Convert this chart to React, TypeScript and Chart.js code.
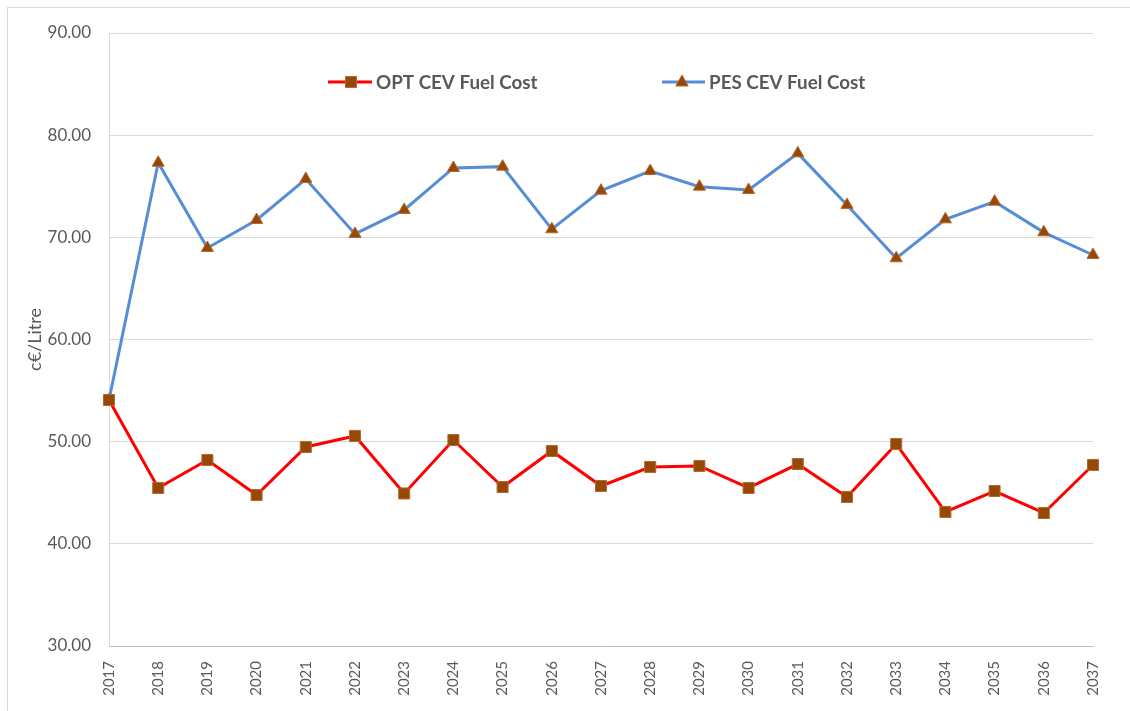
import React, { useEffect, useRef } from "react";
import { Chart, registerables } from "chart.js";

Chart.register(...registerables);

const years = [
  "2017", "2018", "2019", "2020", "2021", "2022", "2023", "2024", "2025", "2026", "2027",
  "2028", "2029", "2030", "2031", "2032", "2033", "2034", "2035", "2036", "2037",
];

const optFuelCost = [
  54.08, 45.47, 48.2, 44.78, 49.48, 50.56, 44.93, 50.16, 45.56, 49.09, 45.66,
  47.52, 47.62, 45.47, 47.81, 44.59, 49.77, 43.12, 45.17, 43.02, 47.72,
];

const pesFuelCost = [
  54.08, 77.3, 68.96, 71.7, 75.71, 70.33, 72.68, 76.79, 76.92, 70.79, 74.57,
  76.49, 74.96, 74.63, 78.22, 73.17, 67.95, 71.76, 73.49, 70.49, 68.27,
];

const seriesNames = ["OPT CEV Fuel Cost", "PES CEV Fuel Cost"];
const yTicks = [30, 40, 50, 60, 70, 80, 90];
const yTitle = "c€/Litre";

const RED = "#ff0000";
const BLUE = "#558ed5";
const MARKER = "#974706";
const MARKER_BORDER = "#b36a30";
const TEXT = "#595959";
const FONT = "Lato, 'Open Sans', sans-serif";

const legendPlugin = {
  id: "insideLegend",
  afterDraw(chart: any) {
    const ctx = chart.ctx;
    const y = 74;
    const items = [
      { x0: 320, x1: 364, mx: 343, tx: 368, ds: 0 },
      { x0: 654, x1: 697, mx: 674, tx: 701, ds: 1 },
    ];
    ctx.save();
    for (const it of items) {
      const ds = chart.data.datasets[it.ds];
      ctx.strokeStyle = ds.borderColor;
      ctx.lineWidth = 3;
      ctx.beginPath();
      ctx.moveTo(it.x0, y);
      ctx.lineTo(it.x1, y);
      ctx.stroke();
      ctx.fillStyle = MARKER;
      ctx.strokeStyle = MARKER_BORDER;
      ctx.lineWidth = 1;
      ctx.beginPath();
      if (ds.pointStyle === "rect") {
        ctx.rect(it.mx - 5.5, y - 5.5, 11, 11);
      } else {
        ctx.moveTo(it.mx, y - 7);
        ctx.lineTo(it.mx + 6.2, y + 4);
        ctx.lineTo(it.mx - 6.2, y + 4);
        ctx.closePath();
      }
      ctx.fill();
      ctx.stroke();
      ctx.fillStyle = TEXT;
      ctx.font = `bold 18.8px ${FONT}`;
      ctx.textBaseline = "middle";
      ctx.textAlign = "left";
      ctx.fillText(ds.label, it.tx, y + 1);
    }
    ctx.restore();
  },
};

export default function App() {
  const ref = useRef<HTMLCanvasElement | null>(null);

  useEffect(() => {
    if (!ref.current) return;
    const chart = new Chart(ref.current, {
      type: "line",
      data: {
        labels: years,
        datasets: [
          {
            label: seriesNames[0],
            data: optFuelCost,
            borderColor: RED,
            backgroundColor: MARKER,
            borderWidth: 3,
            pointStyle: "rect",
            pointRadius: 7.8,
            pointBackgroundColor: MARKER,
            pointBorderColor: MARKER_BORDER,
            pointBorderWidth: 1,
            tension: 0,
            clip: false as any,
          },
          {
            label: seriesNames[1],
            data: pesFuelCost,
            borderColor: BLUE,
            backgroundColor: MARKER,
            borderWidth: 3,
            pointStyle: "triangle",
            pointRadius: 7,
            pointBackgroundColor: MARKER,
            pointBorderColor: MARKER_BORDER,
            pointBorderWidth: 1,
            tension: 0,
            clip: false as any,
          },
        ],
      },
      options: {
        animation: false,
        responsive: false,
        maintainAspectRatio: false,
        layout: { padding: { top: 25, right: 37, left: 0, bottom: 0 } },
        plugins: {
          legend: { display: false },
          tooltip: { enabled: false },
        },
        scales: {
          x: {
            type: "category",
            offset: false,
            grid: { display: false, drawTicks: false },
            border: { display: true, color: "#bfbfbf", width: 1 },
            ticks: {
              color: TEXT,
              font: { family: FONT, size: 15 },
              minRotation: 90,
              maxRotation: 90,
              autoSkip: false,
              padding: 15,
            },
            afterFit(scale: any) {
              scale.height = 65;
              scale.paddingLeft = 0;
              scale.paddingRight = 0;
            },
          },
          y: {
            min: 30,
            max: 90,
            afterBuildTicks(scale: any) {
              scale.ticks = yTicks.map((v) => ({ value: v }));
            },
            grid: { color: "#d9d9d9", lineWidth: 1, drawTicks: false },
            border: { display: true, color: "#d9d9d9", width: 1 },
            ticks: {
              color: TEXT,
              font: { family: FONT, size: 17 },
              padding: 18,
              callback: (v: any) => Number(v).toFixed(2),
            },
            title: {
              display: true,
              text: yTitle,
              color: TEXT,
              font: { family: FONT, size: 18 },
              padding: { top: 16, bottom: 0 },
            },
            afterFit(scale: any) {
              scale.width = 101;
              scale.paddingTop = 0;
              scale.paddingBottom = 0;
            },
          },
        },
      },
      plugins: [legendPlugin],
    });
    return () => chart.destroy();
  }, []);

  return (
    <div
      style={{
        position: "fixed",
        left: 7,
        top: 7,
        width: 1130,
        height: 720,
        border: "1px solid #d9d9d9",
        background: "#fff",
      }}
    >
      <canvas ref={ref} width={1122} height={703} style={{ display: "block" }} />
    </div>
  );
}
